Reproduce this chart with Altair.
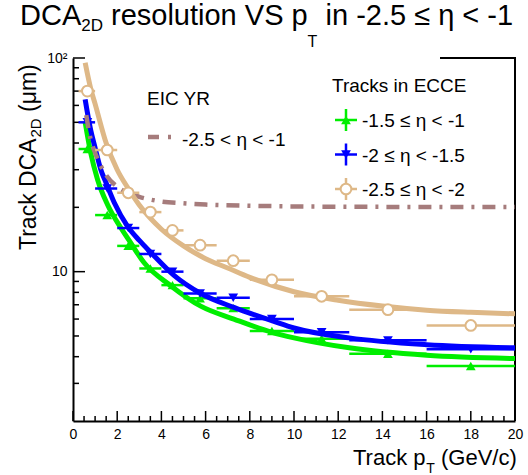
import altair as alt
import pandas as pd

# ---------------- data ----------------
# pT bins (GeV/c): mean pT of the tracks in each bin and the bin edges
pt_mean = [0.65, 1.55, 2.5, 3.5, 4.5, 5.75, 7.25, 9.0, 11.25, 14.25, 18.0]
pt_low = [0.25, 1.0, 2.0, 3.0, 4.0, 5.0, 6.5, 8.0, 10.0, 12.5, 16.0]
pt_high = [1.0, 2.0, 3.0, 4.0, 5.0, 6.5, 8.0, 10.0, 12.5, 16.0, 20.0]

# DCA_2D resolution (um) for each eta slice
dca_eta_15_10 = [37.5, 18.4, 13.2, 10.35, 8.65, 7.5, 6.75, 5.28, 4.85, 4.13, 3.62]
dca_eta_20_15 = [50.0, 24.5, 16.0, 12.1, 10.0, 7.9, 7.55, 6.0, 5.2, 4.77, 4.33]
dca_eta_25_20 = [70.0, 37.1, 23.4, 19.0, 15.6, 13.3, 11.25, 9.16, 7.67, 6.64, 5.6]

# fitted curves
fit_15_10_pt = [0.55, 0.8, 1.11, 1.57, 2.17, 2.54, 3.22, 4.42, 5.78, 7.28, 9.0, 10.0, 12.5, 16.0, 20.0]
fit_15_10_dca = [50.0, 36.0, 27.0, 20.5, 16.0, 14.0, 11.0, 8.6, 6.9, 6.0, 5.2, 4.9, 4.4, 4.06, 3.92]
fit_20_15_pt = [0.55, 0.8, 1.0, 1.26, 1.5, 1.87, 2.47, 3.0, 3.52, 4.57, 5.78, 7.28, 9.09, 10.0, 12.5, 16.0, 20.0]
fit_20_15_dca = [64.0, 46.0, 38.0, 30.0, 26.0, 21.0, 16.3, 14.0, 12.3, 9.6, 7.9, 6.8, 5.85, 5.45, 4.9, 4.55, 4.4]
fit_25_20_pt = [0.55, 0.8, 1.0, 1.5, 2.0, 2.5, 3.0, 4.0, 5.0, 6.0, 7.0, 8.0, 10.0, 12.0, 14.0, 16.0, 18.0, 20.0]
fit_25_20_dca = [95.0, 72.0, 61.0, 40.0, 30.0, 24.5, 20.5, 15.8, 13.2, 11.5, 10.4, 9.4, 8.05, 7.35, 6.9, 6.6, 6.45, 6.35]

# EIC Yellow Report requirement, -2.5 < eta < -1
yr_pt = [0.6, 0.8, 1.0, 1.5, 2.0, 2.5, 3.0, 4.0, 5.0, 6.0, 8.0, 10.0, 14.0, 20.0]
yr_dca = [54.0, 41.5, 36.0, 28.3, 25.0, 23.3, 22.4, 21.3, 20.9, 20.6, 20.35, 20.2, 20.1, 20.05]

# axis ticks
x_major = [0, 2, 4, 6, 8, 10, 12, 14, 16, 18, 20]
x_minor = [0.5, 1, 1.5, 2.5, 3, 3.5, 4.5, 5, 5.5, 6.5, 7, 7.5, 8.5, 9, 9.5,
           10.5, 11, 11.5, 12.5, 13, 13.5, 14.5, 15, 15.5, 16.5, 17, 17.5,
           18.5, 19, 19.5]
y_major = [10, 100]
y_minor = [3, 4, 5, 6, 7, 8, 9, 20, 30, 40, 50, 60, 70, 80, 90]

# ---------------- style ----------------
FONT = "Liberation Sans"
GREEN = "#00ee00"
BLUE = "#0000ff"
TAN = "#deb887"
YR = "#a67c7c"
W, H = 442, 363

xs = alt.Scale(domain=[0, 20], nice=False, zero=False)
ys = alt.Scale(type="log", domain=[2, 100], nice=False)
x_axis = alt.Axis(values=x_major, title=None, ticks=False, grid=False,
                  domainColor="black", domainWidth=2, labelFont=FONT,
                  labelFontSize=14, labelColor="black", labelPadding=6,
                  labelFlush=False, format="d")
y_axis = alt.Axis(values=y_major, title=None, ticks=False, grid=False,
                  domainColor="black", domainWidth=2, labelFont=FONT,
                  labelFontSize=14, labelColor="black", labelPadding=6,
                  labelExpr="datum.value == 100 ? '10\u00b2' : '10'")


def X(f):
    return alt.X(f, type="quantitative", scale=xs, axis=x_axis)


def Y(f):
    return alt.Y(f, type="quantitative", scale=ys, axis=y_axis)


one = pd.DataFrame({"k": [0]})


def text(t, x, y, size, angle=0, align="left"):
    return alt.Chart(one).mark_text(
        text=t, font=FONT, fontSize=size, color="black", align=align,
        baseline="alphabetic", angle=angle
    ).encode(x=alt.value(x), y=alt.value(y))


def points_table(vals):
    return pd.DataFrame({"pt": pt_mean, "lo": pt_low, "hi": pt_high, "dca": vals})


def series(vals, fit_pt, fit_dca, color, marker):
    pts = points_table(vals)
    fit = pd.DataFrame({"pt": fit_pt, "dca": fit_dca})
    curve = alt.Chart(fit).mark_line(color=color, strokeWidth=5, interpolate="monotone",
                                     clip=True).encode(x=X("pt"), y=Y("dca"))
    bars = alt.Chart(pts).mark_rule(color=color, strokeWidth=2.5).encode(
        x=X("lo"), x2="hi", y=Y("dca"))
    if marker == "circle":
        mk = alt.Chart(pts).mark_point(shape="circle", filled=True, fill="white", stroke=color,
                                       strokeWidth=2, size=115, opacity=1).encode(x=X("pt"), y=Y("dca"))
    else:
        mk = alt.Chart(pts).mark_point(shape=marker, filled=True, color=color, size=95,
                                       opacity=1).encode(x=X("pt"), y=Y("dca"))
    return [curve, bars, mk]


layers = []

# inward ticks on the two axes
layers.append(alt.Chart(pd.DataFrame({"v": x_major})).mark_rule(color="black", strokeWidth=1.5)
              .encode(x=X("v"), y=alt.value(H), y2=alt.value(H - 10)))
layers.append(alt.Chart(pd.DataFrame({"v": x_minor})).mark_rule(color="black", strokeWidth=1.5)
              .encode(x=X("v"), y=alt.value(H), y2=alt.value(H - 5)))
layers.append(alt.Chart(pd.DataFrame({"v": y_major})).mark_rule(color="black", strokeWidth=1.5)
              .encode(y=Y("v"), x=alt.value(0), x2=alt.value(12)))
layers.append(alt.Chart(pd.DataFrame({"v": y_minor})).mark_rule(color="black", strokeWidth=1.5)
              .encode(y=Y("v"), x=alt.value(0), x2=alt.value(6)))

# frame on the right and the visible part of the top edge
layers.append(alt.Chart(one).mark_rule(color="black", strokeWidth=2)
              .encode(x=alt.value(W), y=alt.value(0), y2=alt.value(H)))
layers.append(alt.Chart(one).mark_rule(color="black", strokeWidth=2)
              .encode(x=alt.value(367), x2=alt.value(W + 1), y=alt.value(0)))

layers += series(dca_eta_15_10, fit_15_10_pt, fit_15_10_dca, GREEN, "triangle-up")
layers += series(dca_eta_20_15, fit_20_15_pt, fit_20_15_dca, BLUE, "triangle-down")

yr = pd.DataFrame({"pt": yr_pt, "dca": yr_dca})
layers.append(alt.Chart(yr).mark_line(color=YR, strokeWidth=4.5, strokeDash=[13, 8, 3, 8],
                                      strokeCap="butt", interpolate="monotone")
              .encode(x=X("pt"), y=Y("dca")))

layers += series(dca_eta_25_20, fit_25_20_pt, fit_25_20_dca, TAN, "circle")

# ---- legend: EIC YR ----
layers.append(text("EIC YR", 74, 47, 19))
layers.append(alt.Chart(one).mark_rule(color=YR, strokeWidth=4.5, strokeDash=[11, 9, 3, 8],
                                       strokeCap="butt")
              .encode(x=alt.value(75), x2=alt.value(104), y=alt.value(79)))
layers.append(text("-2.5 < \u03b7 < -1", 109, 88, 19))

# ---- legend: Tracks in ECCE ----
layers.append(text("Tracks in ECCE", 259, 34, 19))
legend_rows = [(62, GREEN, "triangle-up", "-1.5 \u2264 \u03b7 < -1"),
               (96.5, BLUE, "triangle-down", "-2 \u2264 \u03b7 < -1.5"),
               (131, TAN, "circle", "-2.5 \u2264 \u03b7 < -2")]
for yy, col, shp, lab in legend_rows:
    layers.append(alt.Chart(one).mark_rule(color=col, strokeWidth=2.5)
                  .encode(x=alt.value(262), x2=alt.value(284), y=alt.value(yy)))
    layers.append(alt.Chart(one).mark_rule(color=col, strokeWidth=2.5)
                  .encode(x=alt.value(273), y=alt.value(yy - 11), y2=alt.value(yy + 11)))
    if shp == "circle":
        layers.append(alt.Chart(one).mark_point(shape="circle", filled=True, fill="white", stroke=col,
                                                strokeWidth=2, size=115, opacity=1)
                      .encode(x=alt.value(273), y=alt.value(yy)))
    else:
        layers.append(alt.Chart(one).mark_point(shape=shp, filled=True, color=col, size=95, opacity=1)
                      .encode(x=alt.value(273), y=alt.value(yy)))
    layers.append(text(lab, 289, yy + 7, 19))

# ---- title ----
layers.append(text("DCA", -53, -33, 29))
layers.append(text("2D", 8.2, -27, 17))
layers.append(text("resolution VS p", 38, -33, 29))
layers.append(text("T", 234.6, -11, 16))
layers.append(text("in -2.5 \u2264 \u03b7 < -1", 252.5, -33, 29))

# ---- x axis title ----
layers.append(text("Track p", 280, 407, 22))
layers.append(text("T", 353.3, 415, 14))
layers.append(text("(GeV/c)", 368, 407, 22))

# ---- y axis title (rotated) ----
layers.append(text("Track DCA", -37, 192, 23, angle=270))
layers.append(text("2D", -32, 79.6, 15, angle=270))
layers.append(text("(\u03bcm)", -37, 54, 23, angle=270))

chart = alt.layer(*layers).properties(
    width=W, height=H,
    autosize=alt.AutoSizeParams(type="none"),
    padding={"left": 73, "top": 58, "right": 13, "bottom": 54},
    background="white",
).configure_view(stroke=None)

chart.save("out.html", embed_options={"renderer": "svg", "actions": False})
